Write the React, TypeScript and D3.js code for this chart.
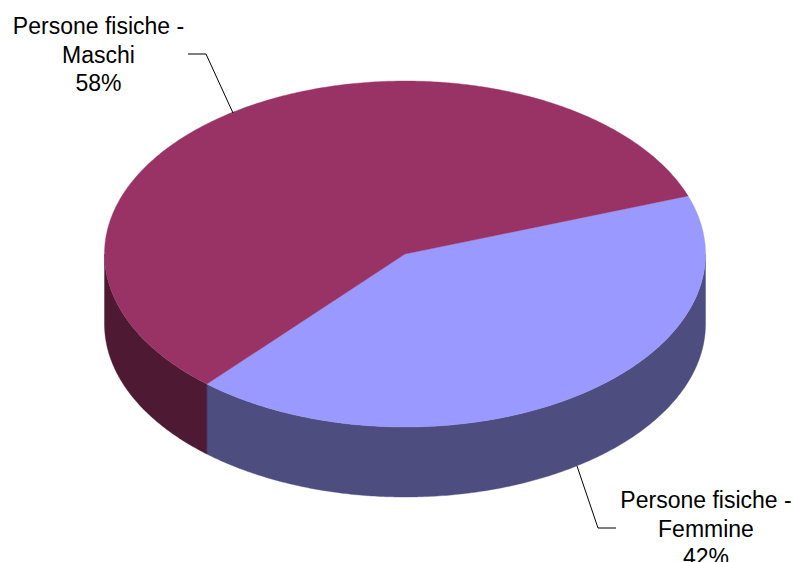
import React from "react";
import * as d3 from "d3";

const categories = ["Persone fisiche - Femmine", "Persone fisiche - Maschi"];
const values = [41.9, 58.1];
const topColors = ["#9999ff", "#993366"];
const sideColors = ["#4d4d80", "#4d1933"];
const labelLines = [["Persone fisiche -", "Femmine"], ["Persone fisiche -", "Maschi"]];
const shownPercents = ["42%", "58%"];

const W = 793, H = 562;
const cx = 405, cy = 254, rx = 300.5, ry = 173, depth = 70;
const startDeg = 70.4;

const sx = d3.scaleLinear().domain([-1, 1]).range([cx - rx, cx + rx]);
const sy = d3.scaleLinear().domain([-1, 1]).range([cy - ry, cy + ry]);

const pie = d3.pie<number>().sort(null)
  .startAngle((startDeg * Math.PI) / 180)
  .endAngle((startDeg * Math.PI) / 180 + 2 * Math.PI);
const arcs = pie(values);

const samples = (a: number, b: number) => {
  const n = Math.max(2, Math.ceil(Math.abs(b - a) / 0.01));
  return d3.range(n + 1).map((i) => a + ((b - a) * i) / n);
};
const pt = (a: number, dy = 0): [number, number] => [sx(Math.sin(a)), sy(-Math.cos(a)) + dy];
const line = d3.line<[number, number]>();

const topPath = (a: number, b: number) =>
  line([[cx, cy], ...samples(a, b).map((t) => pt(t))])! + "Z";

const sidePath = (a0: number, b0: number) => {
  const a = Math.max(a0, Math.PI / 2);
  const b = Math.min(b0, (3 * Math.PI) / 2);
  if (b <= a) return null;
  const s = samples(a, b);
  return line([...s.map((t) => pt(t)), ...s.slice().reverse().map((t) => pt(t, depth))])! + "Z";
};

const labelPos = [
  { x: 706, y: 508 },
  { x: 98.5, y: 34 },
];
const leaders: [number, number][][] = [
  [[577, 466], [598, 528], [616, 528]],
  [[188, 54], [206, 54], [233, 113]],
];
const lineH = 28.5;

export default function App() {
  return (
    <svg
      width={W}
      height={H}
      viewBox={`0 0 ${W} ${H}`}
      style={{ position: "fixed", left: 0, top: 0, background: "#fff" }}
      fontFamily="'Liberation Sans', Arial, sans-serif"
    >
      {arcs.map((d, i) => {
        const p = sidePath(d.startAngle, d.endAngle);
        return p ? <path key={i} d={p} fill={sideColors[i]} stroke={sideColors[i]} strokeWidth={0.4} /> : null;
      })}
      {arcs.map((d, i) => (
        <path key={categories[i]} d={topPath(d.startAngle, d.endAngle)} fill={topColors[i]} stroke={topColors[i]} strokeWidth={0.4} />
      ))}
      {leaders.map((l, i) => (
        <path key={i} d={line(l)!} fill="none" stroke="#000" strokeWidth={1} />
      ))}
      {labelPos.map((p, i) => (
        <text key={i} x={p.x} y={p.y} fontSize={23} textAnchor="middle" fill="#000">
          {[...labelLines[i], shownPercents[i]].map((t, j) => (
            <tspan key={j} x={p.x} y={p.y + j * lineH}>{t}</tspan>
          ))}
        </text>
      ))}
    </svg>
  );
}
